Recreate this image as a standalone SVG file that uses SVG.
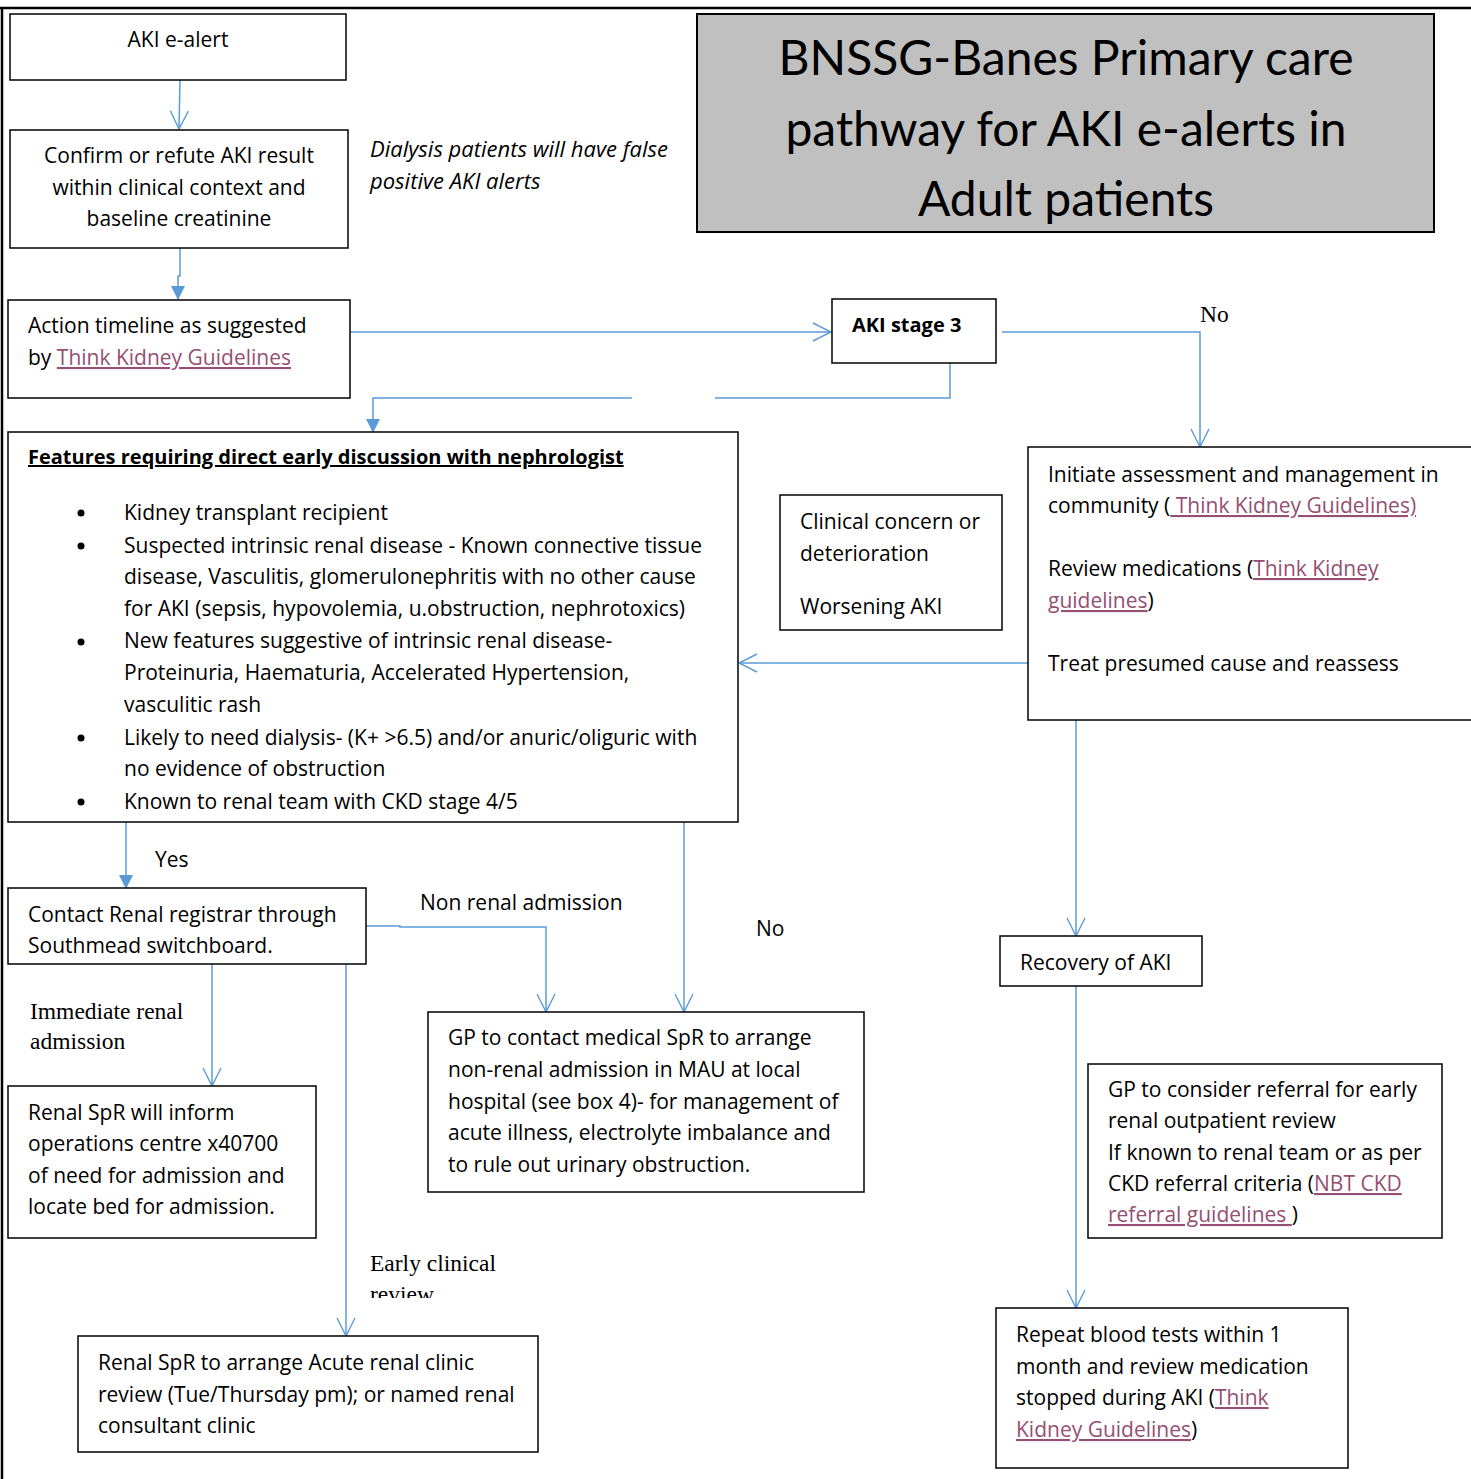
<svg xmlns="http://www.w3.org/2000/svg" width="1471" height="1479" viewBox="0 0 1471 1479">
<defs>
<style>
.box{fill:#fff;stroke:#000;stroke-width:1.5}
.t{font-family:"Open Sans",Lato,"Liberation Sans",sans-serif;font-size:21px;fill:#000}
.b{font-weight:bold;font-size:20px}
.it{font-style:italic;font-size:22px}
.ti{font-family:Lato,"Open Sans","Liberation Sans",sans-serif;font-size:48px;fill:#000}
.s{font-family:"Liberation Serif","Times New Roman",serif;font-size:23.5px;fill:#000}
.lk{fill:#954F72;text-decoration:underline}
.c{fill:none;stroke:#5B9BD5;stroke-width:1.5}
</style>
<marker id="openL" viewBox="0 0 20 20" refX="19" refY="10" markerWidth="20" markerHeight="20" markerUnits="userSpaceOnUse" orient="auto">
<path d="M1,1 L19,10 L1,19" fill="none" stroke="#5B9BD5" stroke-width="1.4"/>
</marker>
<marker id="fill" viewBox="0 0 14 14" refX="13" refY="7" markerWidth="14" markerHeight="14" markerUnits="userSpaceOnUse" orient="auto">
<path d="M0,0 L14,7 L0,14 Z" fill="#5B9BD5"/>
</marker>
<clipPath id="clipEarly"><rect x="360" y="1240" width="200" height="58"/></clipPath>
</defs>
<rect width="1471" height="1479" fill="#fff"/>
<g id="page-border">
<line x1="0" y1="8" x2="1471" y2="8" stroke="#000" stroke-width="2.5"/>
<line x1="2" y1="7" x2="2" y2="1479" stroke="#000" stroke-width="2.5"/>
</g>

<g id="connectors">
<path class="c" d="M180,80 L179,129" marker-end="url(#openL)"/>
<path class="c" d="M180,248 L180,276 L178,276 L178,299" marker-end="url(#fill)"/>
<path class="c" d="M350,332 L831,332" marker-end="url(#openL)"/>
<path class="c" d="M950,363 L950,398 L715,398"/>
<path class="c" d="M632,398 L373,398 L373,432" marker-end="url(#fill)"/>
<path class="c" d="M1002,332 L1200,332 L1200,447" marker-end="url(#openL)"/>
<path class="c" d="M1028,663 L739,663" marker-end="url(#openL)"/>
<path class="c" d="M1076,720 L1076,936" marker-end="url(#openL)"/>
<path class="c" d="M126,822 L126,888" marker-end="url(#fill)"/>
<path class="c" d="M684,822 L684,1012" marker-end="url(#openL)"/>
<path class="c" d="M366,926 L400,926 L400,927 L546,927 L546,1012" marker-end="url(#openL)"/>
<path class="c" d="M212,964 L212,1086" marker-end="url(#openL)"/>
<path class="c" d="M346,964 L346,1336" marker-end="url(#openL)"/>
<path class="c" d="M1076,986 L1076,1308" marker-end="url(#openL)"/>
<text class="s" x="1200" y="322">No</text>
<text class="t" x="155" y="867">Yes</text>
<text class="t" x="756" y="936">No</text>
<text class="t" x="420" y="910">Non renal admission</text>
<text class="s" x="30" y="1019">Immediate renal</text>
<text class="s" x="30" y="1049">admission</text>
<g clip-path="url(#clipEarly)">
<text class="s" x="370" y="1271">Early clinical</text>
<text class="s" x="370" y="1302">review</text>
</g>
</g>

<g id="title">
<rect x="697" y="14" width="737" height="218" fill="#C0C0C0" stroke="#000" stroke-width="2"/>
<text class="ti" x="1066" y="75" text-anchor="middle">BNSSG-Banes Primary care</text>
<text class="ti" x="1066" y="146" text-anchor="middle">pathway for AKI e-alerts in</text>
<text class="ti" x="1066" y="216" text-anchor="middle">Adult patients</text>
</g>

<g id="dialysis-note">
<text class="t it" x="370" y="157">Dialysis patients will have false</text>
<text class="t it" x="370" y="189">positive AKI alerts</text>
</g>

<g id="aki-ealert">
<rect class="box" x="10" y="14" width="336" height="66"/>
<text class="t" x="178" y="47" text-anchor="middle">AKI e-alert</text>
</g>

<g id="confirm">
<rect class="box" x="10" y="130" width="338" height="118"/>
<text class="t" x="179" y="163" text-anchor="middle">Confirm or refute AKI result</text>
<text class="t" x="179" y="195" text-anchor="middle">within clinical context and</text>
<text class="t" x="179" y="226" text-anchor="middle">baseline creatinine</text>
</g>

<g id="action">
<rect class="box" x="8" y="300" width="342" height="98"/>
<text class="t" x="28" y="333">Action timeline as suggested</text>
<text class="t" x="28" y="365">by <tspan class="lk">Think Kidney Guidelines</tspan></text>
</g>

<g id="aki-stage3">
<rect class="box" x="832" y="299" width="164" height="64"/>
<text class="t b" x="852" y="332">AKI stage 3</text>
</g>

<g id="features">
<rect class="box" x="8" y="432" width="730" height="390"/>
<text class="t b" x="28" y="464" text-decoration="underline">Features requiring direct early discussion with nephrologist</text>
<g>
<circle cx="81" cy="513" r="3.5"/>
<circle cx="81" cy="546" r="3.5"/>
<circle cx="81" cy="642" r="3.5"/>
<circle cx="81" cy="738" r="3.5"/>
<circle cx="81" cy="802" r="3.5"/>
</g>
<text class="t" x="124" y="520">Kidney transplant recipient</text>
<text class="t" x="124" y="553">Suspected intrinsic renal disease - Known connective tissue</text>
<text class="t" x="124" y="584">disease, Vasculitis, glomerulonephritis with no other cause</text>
<text class="t" x="124" y="616">for AKI (sepsis, hypovolemia, u.obstruction, nephrotoxics)</text>
<text class="t" x="124" y="648">New features suggestive of intrinsic renal disease-</text>
<text class="t" x="124" y="680">Proteinuria, Haematuria, Accelerated Hypertension,</text>
<text class="t" x="124" y="712">vasculitic rash</text>
<text class="t" x="124" y="745">Likely to need dialysis- (K+ &gt;6.5) and/or anuric/oliguric with</text>
<text class="t" x="124" y="776">no evidence of obstruction</text>
<text class="t" x="124" y="809">Known to renal team with CKD stage 4/5</text>
</g>

<g id="clinical-concern">
<rect class="box" x="780" y="495" width="222" height="135"/>
<text class="t" x="800" y="529">Clinical concern or</text>
<text class="t" x="800" y="561">deterioration</text>
<text class="t" x="800" y="614">Worsening AKI</text>
</g>

<g id="initiate">
<rect class="box" x="1028" y="447" width="460" height="273"/>
<text class="t" x="1048" y="482">Initiate assessment and management in</text>
<text class="t" x="1048" y="513">community (<tspan class="lk"> Think Kidney Guidelines)</tspan></text>
<text class="t" x="1048" y="576">Review medications (<tspan class="lk">Think Kidney</tspan></text>
<text class="t" x="1048" y="608"><tspan class="lk">guidelines</tspan>)</text>
<text class="t" x="1048" y="671">Treat presumed cause and reassess</text>
</g>

<g id="contact-renal">
<rect class="box" x="8" y="888" width="358" height="76"/>
<text class="t" x="28" y="922">Contact Renal registrar through</text>
<text class="t" x="28" y="953">Southmead switchboard.</text>
</g>

<g id="gp-contact">
<rect class="box" x="428" y="1012" width="436" height="180"/>
<text class="t" x="448" y="1045">GP to contact medical SpR to arrange</text>
<text class="t" x="448" y="1077">non-renal admission in MAU at local</text>
<text class="t" x="448" y="1109">hospital (see box 4)- for management of</text>
<text class="t" x="448" y="1140">acute illness, electrolyte imbalance and</text>
<text class="t" x="448" y="1172">to rule out urinary obstruction.</text>
</g>

<g id="recovery">
<rect class="box" x="1000" y="936" width="202" height="50"/>
<text class="t" x="1020" y="970">Recovery of AKI</text>
</g>

<g id="spr-inform">
<rect class="box" x="8" y="1086" width="308" height="152"/>
<text class="t" x="28" y="1120">Renal SpR will inform</text>
<text class="t" x="28" y="1151">operations centre x40700</text>
<text class="t" x="28" y="1183">of need for admission and</text>
<text class="t" x="28" y="1214">locate bed for admission.</text>
</g>

<g id="gp-consider">
<rect class="box" x="1088" y="1064" width="354" height="174"/>
<text class="t" x="1108" y="1097">GP to consider referral for early</text>
<text class="t" x="1108" y="1128">renal outpatient review</text>
<text class="t" x="1108" y="1160">If known to renal team or as per</text>
<text class="t" x="1108" y="1191">CKD referral criteria (<tspan class="lk">NBT CKD</tspan></text>
<text class="t" x="1108" y="1222"><tspan class="lk">referral guidelines </tspan>)</text>
</g>

<g id="spr-arrange">
<rect class="box" x="78" y="1336" width="460" height="116"/>
<text class="t" x="98" y="1370">Renal SpR to arrange Acute renal clinic</text>
<text class="t" x="98" y="1402">review (Tue/Thursday pm); or named renal</text>
<text class="t" x="98" y="1433">consultant clinic</text>
</g>

<g id="repeat-bloods">
<rect class="box" x="996" y="1308" width="352" height="160"/>
<text class="t" x="1016" y="1342">Repeat blood tests within 1</text>
<text class="t" x="1016" y="1374">month and review medication</text>
<text class="t" x="1016" y="1405">stopped during AKI (<tspan class="lk">Think</tspan></text>
<text class="t" x="1016" y="1437"><tspan class="lk">Kidney Guidelines</tspan>)</text>
</g>
</svg>
